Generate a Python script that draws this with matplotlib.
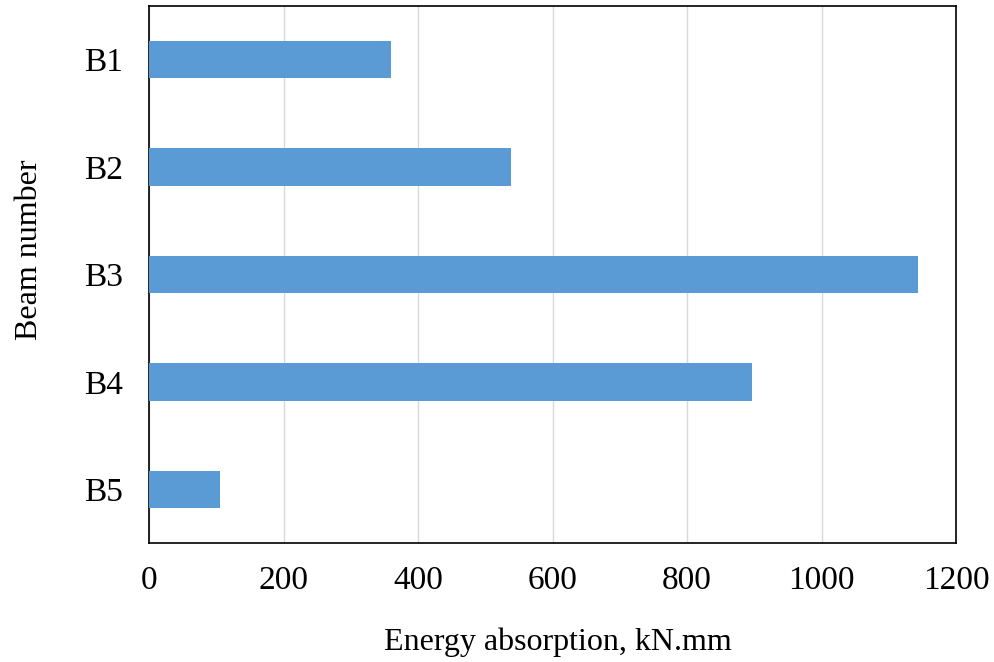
import matplotlib
matplotlib.use("Agg")
import matplotlib.pyplot as plt

# beam energy absorption values
beams = ["B1", "B2", "B3", "B4", "B5"]
energy = [360, 538, 1143, 897, 106]
xticks = [0, 200, 400, 600, 800, 1000, 1200]

plt.rcParams['font.family'] = ['Liberation Serif', 'DejaVu Serif']

fig = plt.figure(figsize=(9.95, 6.62), dpi=100)
ax = fig.add_axes([149 / 995, 1 - 543 / 662, (956 - 149) / 995, (543 - 6) / 662])

ypos = list(range(len(beams)))
ax.barh(ypos, energy, height=0.35, color="#5B9BD5", zorder=3)
ax.set_yticks(ypos)
ax.set_yticklabels(beams)
ax.set_ylim(len(beams) - 0.5, -0.5)

ax.set_xlim(0, 1200)
ax.set_xticks(xticks)
ax.grid(axis="x", color="#d9d9d9", linewidth=1, zorder=0)
ax.tick_params(length=0, labelsize=24, pad=16)
ax.tick_params(axis="y", pad=19)

for s in ax.spines.values():
    s.set_linewidth(1.2)
    s.set_color("black")

ax.set_xlabel("Energy absorption, kN.mm", fontsize=23)
ax.set_ylabel("Beam number", fontsize=23)
ax.xaxis.set_label_coords(0.507, -0.157)
ax.yaxis.set_label_coords(-0.13, 0.546)

fig.savefig("out.png", dpi=100)
